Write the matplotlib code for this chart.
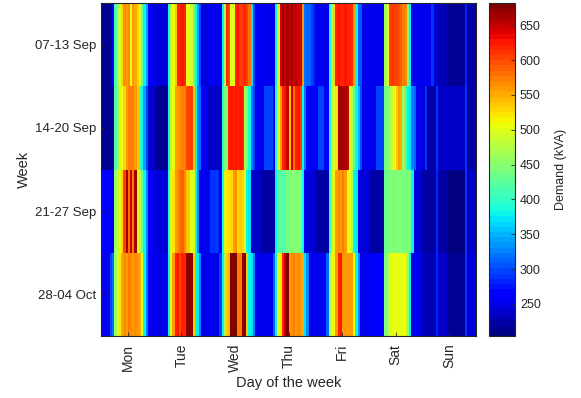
import numpy as np
import matplotlib
matplotlib.use("Agg")
import matplotlib.pyplot as plt

plt.rcParams['font.family'] = ['Liberation Sans', 'DejaVu Sans']

days = ["Mon", "Tue", "Wed", "Thu", "Fri", "Sat", "Sun"]
weeks = ["07-13 Sep", "14-20 Sep", "21-27 Sep", "28-04 Oct"]

# hourly demand (kVA), 24 values per day, Mon..Sun
week1 = [
    215, 215, 215, 215, 215, 250, 420, 480, 500, 530, 565, 560, 565, 505, 560, 555, 530, 495, 435, 380, 340, 270, 255, 250,
    245, 245, 245, 245, 245, 245, 390, 470, 510, 540, 615, 620, 625, 615, 500, 505, 495, 430, 380, 340, 300, 250, 245, 245,
    250, 250, 250, 250, 250, 250, 380, 470, 620, 600, 500, 510, 620, 625, 600, 610, 620, 600, 580, 370, 300, 260, 255, 255,
    250, 250, 250, 250, 250, 250, 380, 500, 640, 660, 650, 660, 645, 660, 650, 655, 640, 650, 560, 320, 310, 310, 300, 280,
    255, 255, 255, 255, 255, 255, 390, 470, 530, 620, 625, 615, 620, 625, 615, 620, 610, 560, 380, 310, 305, 255, 255, 255,
    250, 250, 250, 250, 250, 250, 250, 470, 510, 600, 610, 600, 605, 595, 590, 570, 565, 440, 380, 260, 250, 250, 250, 250,
    250, 250, 250, 250, 290, 245, 245, 230, 230, 230, 230, 215, 215, 215, 215, 215, 215, 215, 215, 280, 225, 225, 225, 225,
]
week2 = [
    212, 212, 212, 212, 212, 212, 420, 470, 500, 505, 530, 560, 570, 575, 570, 560, 540, 400, 380, 340, 300, 245, 240, 240,
    215, 215, 215, 215, 215, 215, 380, 490, 510, 560, 560, 565, 570, 575, 600, 605, 600, 540, 380, 330, 310, 260, 255, 255,
    240, 240, 240, 240, 240, 240, 400, 440, 450, 620, 625, 620, 625, 620, 625, 620, 470, 450, 390, 330, 300, 255, 255, 255,
    260, 300, 300, 300, 300, 260, 390, 500, 560, 620, 625, 650, 540, 650, 580, 620, 625, 600, 380, 320, 260, 260, 260, 260,
    260, 300, 300, 300, 260, 260, 390, 480, 500, 520, 660, 665, 660, 665, 650, 500, 470, 430, 380, 350, 300, 255, 255, 255,
    250, 250, 250, 300, 300, 300, 300, 440, 450, 470, 490, 510, 540, 560, 550, 460, 400, 380, 370, 330, 310, 255, 255, 255,
    245, 290, 225, 225, 225, 225, 290, 240, 240, 240, 240, 240, 240, 240, 240, 240, 240, 240, 240, 290, 225, 225, 225, 225,
]
week3 = [
    265, 265, 265, 265, 260, 250, 460, 490, 505, 530, 600, 660, 580, 650, 570, 660, 510, 470, 430, 380, 330, 270, 260, 255,
    245, 245, 245, 245, 245, 245, 390, 500, 520, 560, 565, 580, 585, 565, 540, 535, 500, 495, 380, 330, 250, 250, 250, 250,
    260, 290, 290, 290, 290, 260, 390, 500, 520, 525, 530, 560, 565, 530, 535, 530, 500, 380, 375, 240, 240, 240, 240, 240,
    225, 225, 225, 225, 225, 225, 380, 420, 425, 420, 425, 440, 445, 450, 445, 450, 445, 440, 380, 250, 245, 245, 245, 245,
    225, 225, 225, 225, 225, 225, 400, 500, 505, 560, 565, 560, 570, 560, 500, 505, 470, 380, 375, 245, 245, 245, 245, 245,
    225, 225, 225, 225, 225, 225, 225, 430, 440, 445, 450, 440, 445, 450, 445, 440, 450, 445, 435, 380, 245, 245, 245, 245,
    225, 225, 225, 225, 225, 225, 280, 220, 220, 220, 220, 210, 210, 210, 210, 210, 210, 210, 210, 290, 240, 240, 240, 240,
]
week4 = [
    255, 255, 255, 255, 300, 320, 460, 500, 520, 555, 565, 560, 570, 565, 560, 565, 560, 555, 500, 380, 320, 265, 255, 250,
    250, 250, 250, 250, 250, 250, 380, 500, 560, 620, 625, 600, 620, 615, 670, 675, 670, 530, 380, 370, 330, 250, 250, 250,
    250, 250, 250, 250, 250, 300, 380, 460, 540, 545, 680, 682, 675, 570, 575, 670, 675, 540, 380, 375, 330, 250, 250, 250,
    250, 250, 250, 250, 250, 310, 380, 510, 520, 620, 650, 680, 560, 565, 570, 560, 565, 560, 550, 370, 330, 250, 250, 250,
    255, 255, 255, 255, 255, 310, 460, 510, 515, 560, 620, 625, 560, 560, 560, 560, 560, 510, 380, 330, 255, 255, 255, 255,
    260, 260, 260, 260, 260, 260, 260, 450, 460, 505, 510, 500, 505, 510, 500, 505, 495, 450, 380, 250, 250, 250, 250, 250,
    230, 230, 230, 230, 230, 230, 280, 240, 240, 240, 240, 215, 215, 215, 215, 215, 215, 215, 215, 290, 245, 245, 245, 245,
]

cbar_ticks = [250, 300, 350, 400, 450, 500, 550, 600, 650]

data = np.array([week1, week2, week3, week4], dtype=float)
n_hours = data.shape[1]

txt = '#262626'
fig = plt.figure(figsize=(5.81, 3.98), dpi=100)
ax = fig.add_axes([101/581, 1-336/398, 375/581, 333/398])
cax = fig.add_axes([489/581, 1-336/398, 26/581, 333/398])

cmap = plt.get_cmap('jet', 64)
xedges = np.arange(n_hours + 1)
yedges = np.arange(len(weeks) + 1)
mesh = ax.pcolormesh(xedges, yedges, data, cmap=cmap, vmin=204, vmax=682, shading='flat')
ax.set_xlim(0, n_hours)
ax.set_ylim(len(weeks), 0)

ax.set_xticks([12 + 24 * i for i in range(len(days))])
ax.set_xticklabels(days, rotation=90, fontsize=10, color=txt)
ax.set_yticks([0.5 + i for i in range(len(weeks))])
ax.set_yticklabels(weeks, fontsize=9.5, color=txt)
ax.tick_params(direction='in', length=3, color=txt, width=0.6)
ax.tick_params(axis='x', pad=5.5)
ax.set_xlabel("Day of the week", fontsize=10.5, color=txt, labelpad=3)
ax.set_ylabel("Week", fontsize=10.5, color=txt, labelpad=3)
for s in ax.spines.values():
    s.set_color(txt)
    s.set_linewidth(0.8)

cb = fig.colorbar(mesh, cax=cax)
cb.set_ticks(cbar_ticks)
cb.ax.tick_params(labelsize=9, colors=txt, direction='in', length=3, width=0.6)
cb.set_label("Demand (kVA)", fontsize=9, color=txt, labelpad=10)
cb.outline.set_edgecolor(txt)
cb.outline.set_linewidth(0.8)

fig.savefig("out.png", dpi=100)
